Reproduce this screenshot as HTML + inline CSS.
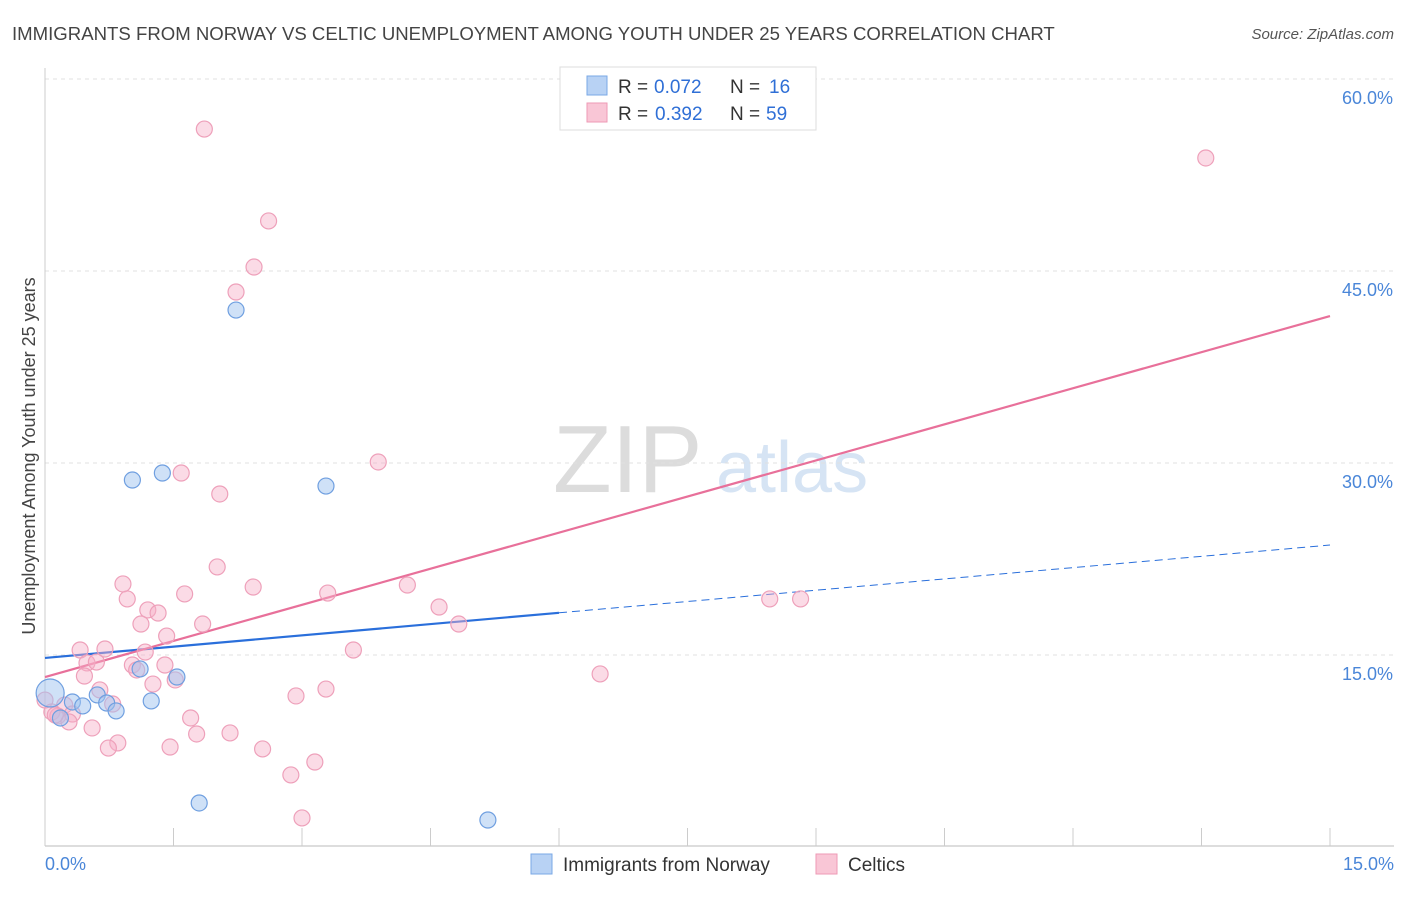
<!DOCTYPE html>
<html><head><meta charset="utf-8"><style>
body{margin:0;background:#fff;font-family:"Liberation Sans",sans-serif}
svg text{font-family:"Liberation Sans",sans-serif}
</style></head><body>
<svg id="chart" width="1406" height="892" viewBox="0 0 1406 892">
<text x="12" y="40" font-size="18.6" fill="#444">IMMIGRANTS FROM NORWAY VS CELTIC UNEMPLOYMENT AMONG YOUTH UNDER 25 YEARS CORRELATION CHART</text>
<text x="1394" y="39" font-size="15" fill="#555" font-style="italic" text-anchor="end">Source: ZipAtlas.com</text>
<g>
<text x="553" y="492" font-size="96" fill="#dcdcdc" font-family="Liberation Serif, serif">ZIP</text>
<text x="716" y="492" font-size="72" fill="#d6e4f4">atlas</text>
</g>
<g id="grid"></g>
<g id="axes"></g>
<text x="35" y="456" font-size="18" fill="#444" text-anchor="middle" transform="rotate(-90 35 456)">Unemployment Among Youth under 25 years</text>
<g id="lines"></g>
<g id="pts"></g>
<g>
<rect x="560" y="67" width="256" height="63" fill="#fff" stroke="#ddd"/>
<rect x="587" y="76" width="20" height="19" fill="#b8d2f4" stroke="#7aa8e6"/>
<rect x="587" y="103" width="20" height="19" fill="#f9c6d6" stroke="#ee9ab5"/>
<text x="618" y="93" font-size="19" fill="#333">R =</text>
<text x="654" y="93" font-size="19" fill="#2f6fd6">0.072</text>
<text x="730" y="93" font-size="19" fill="#333">N =</text>
<text x="769" y="93" font-size="19" fill="#2f6fd6">16</text>
<text x="618" y="120" font-size="19" fill="#333">R =</text>
<text x="655" y="120" font-size="19" fill="#2f6fd6">0.392</text>
<text x="730" y="120" font-size="19" fill="#333">N =</text>
<text x="766" y="120" font-size="19" fill="#2f6fd6">59</text>
</g>
<g>
<rect x="531" y="854" width="21" height="20" fill="#b8d2f4" stroke="#7aa8e6"/>
<text x="563" y="871" font-size="19" fill="#333">Immigrants from Norway</text>
<rect x="816" y="854" width="21" height="20" fill="#f9c6d6" stroke="#ee9ab5"/>
<text x="848" y="871" font-size="19" fill="#333">Celtics</text>
</g>
</svg>
<script>
const xTicks=[0,1.5,3,4.5,6,7.5,9,10.5,12,13.5,15];
const yTicks=[15,30,45,60];
const yTickLabels=["15.0%","30.0%","45.0%","60.0%"];
const norwayX=[0.06,0.18,0.32,0.44,0.61,0.72,0.83,1.02,1.11,1.24,1.37,1.54,1.80,2.23,3.28,5.17];
const norwayY=[12.03,10.08,11.33,11.02,11.88,11.25,10.63,28.67,13.91,11.41,29.22,13.28,3.44,41.95,28.20,2.11];
const celticsX=[1.86,13.55,2.61,2.44,2.23,3.89,1.59,2.04,2.01,0.91,2.43,4.23,0.96,1.63,3.30,8.46,8.82,1.20,1.32,4.60,1.12,1.84,4.83,1.42,0.41,0.70,1.17,3.60,0.49,0.60,1.02,1.40,1.07,0.46,6.48,1.52,1.26,0.64,3.28,2.93,0.00,0.79,0.23,0.08,0.15,0.32,1.70,0.55,0.28,0.85,0.74,1.77,2.16,1.46,2.54,3.15,2.87,3.00,0.12];
const celticsY=[56.09,53.83,48.91,45.31,43.36,30.08,29.22,27.58,21.88,20.55,20.31,20.47,19.38,19.77,19.84,19.38,19.38,18.52,18.28,18.75,17.42,17.42,17.42,16.48,15.39,15.47,15.23,15.39,14.38,14.45,14.22,14.22,13.83,13.36,13.52,13.05,12.73,12.27,12.34,11.80,11.48,11.17,11.09,10.55,10.23,10.39,10.08,9.30,9.77,8.13,7.73,8.83,8.91,7.81,7.66,6.64,5.63,2.27,10.31];
const norwayTrend=[14.77,23.59];
const celticsTrend=[13.28,41.48];
const NS="http://www.w3.org/2000/svg";
const X=v=>45+v/15*1285, Y=v=>847-v/15*192;
function mk(tag,attrs,parent){const e=document.createElementNS(NS,tag);for(const k in attrs)e.setAttribute(k,attrs[k]);parent.appendChild(e);return e;}
const grid=document.getElementById('grid'),axes=document.getElementById('axes');
yTicks.forEach((t,i)=>{
 const l=mk('line',{x1:45,x2:1394,y1:Y(t),y2:Y(t),stroke:'#e0e0e0','stroke-dasharray':'4,4'},grid);
 
 
 const tx=mk('text',{x:1393,y:Y(t)+25,'font-size':18,fill:'#4a86d8','text-anchor':'end'},axes);
 tx.textContent=yTickLabels[i];
 
 
});
const tg=mk('line',{x1:45,x2:1394,y1:79,y2:79,stroke:'#e0e0e0','stroke-dasharray':'4,4'},grid);


const ax=mk('line',{x1:45,x2:1394,y1:846,y2:846,stroke:'#bbb'},axes);


const ay=mk('line',{x1:45,x2:45,y1:68,y2:846,stroke:'#ccc'},axes);


xTicks.forEach(t=>{const l=mk('line',{x1:X(t),x2:X(t),y1:828,y2:846,stroke:'#ccc'},axes);
 
 });
const xl0=mk('text',{x:45,y:870,'font-size':18,fill:'#4a86d8'},axes);xl0.textContent=xTicks[0].toFixed(1)+'%';


const xl1=mk('text',{x:1394,y:870,'font-size':18,fill:'#4a86d8','text-anchor':'end'},axes);xl1.textContent=xTicks[xTicks.length-1].toFixed(1)+'%';


const pts=document.getElementById('pts');
celticsX.forEach((x,i)=>{const c=mk('circle',{cx:X(x),cy:Y(celticsY[i]),r:8,fill:'rgba(246,176,200,0.45)',stroke:'#eea0ba','stroke-width':1.2},pts);
 
 });
norwayX.forEach((x,i)=>{const c=mk('circle',{cx:X(x),cy:Y(norwayY[i]),r:i===0?14:8,fill:'rgba(160,196,240,0.5)',stroke:'#6f9fe0','stroke-width':1.2},pts);
 
 });
const lines=document.getElementById('lines');
const nAt=x=>norwayTrend[0]+(norwayTrend[1]-norwayTrend[0])*x/15;
const b1=mk('line',{x1:X(0),y1:Y(nAt(0)),x2:X(6),y2:Y(nAt(6)),stroke:'#2a6fdb','stroke-width':2.2},lines);


const b2=mk('line',{x1:X(6),y1:Y(nAt(6)),x2:X(15),y2:Y(nAt(15)),stroke:'#2a6fdb','stroke-width':1,'stroke-dasharray':'8,5'},lines);


const p1=mk('line',{x1:X(0),y1:Y(celticsTrend[0]),x2:X(15),y2:Y(celticsTrend[1]),stroke:'#e8709a','stroke-width':2.2},lines);


</script>
</body></html>
